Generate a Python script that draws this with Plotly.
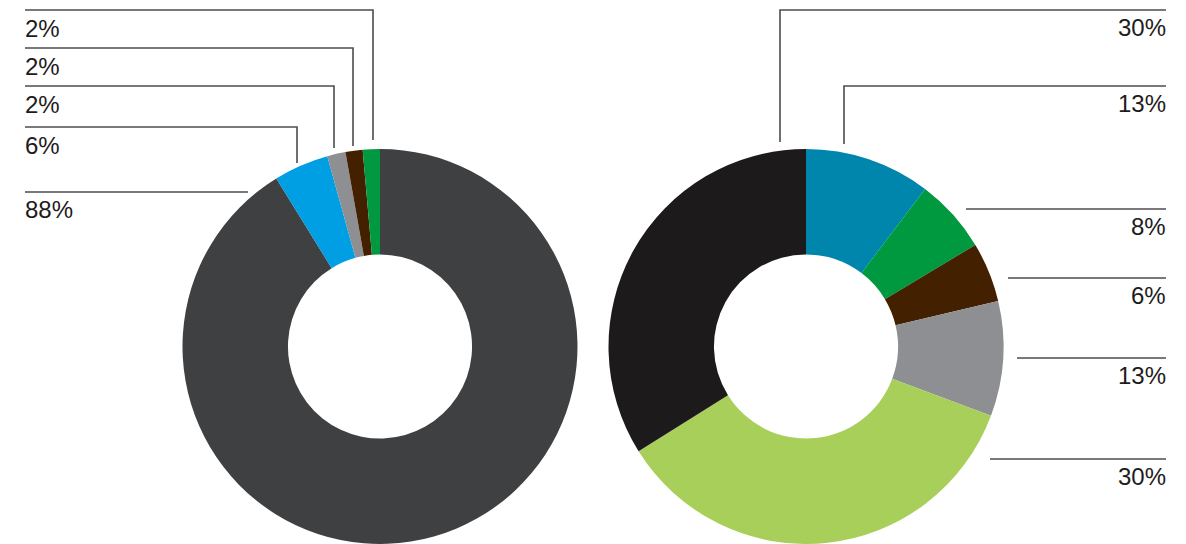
import plotly.graph_objects as go

W, H = 1186, 544

# Left donut (drawn slice shares, clockwise from 12 o'clock)
left_names = ["A", "B", "C", "D", "E"]
left_values = [91.2, 4.5, 1.5, 1.4, 1.4]
left_colors = ["#3f4042", "#009fe3", "#8e8f92", "#432000", "#00993f"]
left_labels = ["88%", "6%", "2%", "2%", "2%"]

# Right donut
right_names = ["A", "B", "C", "D", "E", "F"]
right_values = [10.3, 6.1, 4.9, 9.4, 35.4, 33.9]
right_colors = ["#0086ad", "#00993f", "#432000", "#8e8f92", "#a8cf5a", "#1c1a1b"]
right_labels = ["13%", "8%", "6%", "13%", "30%", "30%"]


def px(x):
    return x / W


def py(y):
    return 1 - y / H


fig = go.Figure()
fig.add_trace(go.Pie(
    labels=left_names, values=left_values, sort=False, direction="clockwise",
    rotation=0, hole=0.466, marker=dict(colors=left_colors, line=dict(width=0)),
    textinfo="none", hoverinfo="skip", showlegend=False,
    domain=dict(x=[px(182), px(578)], y=[0, py(149)]),
))
fig.add_trace(go.Pie(
    labels=right_names, values=right_values, sort=False, direction="clockwise",
    rotation=0, hole=0.466, marker=dict(colors=right_colors, line=dict(width=0)),
    textinfo="none", hoverinfo="skip", showlegend=False,
    domain=dict(x=[px(608), px(1004)], y=[0, py(149)]),
))

line_style = dict(color="#4d4d4f", width=1.6)
font = dict(family="Liberation Sans, Arial, sans-serif", size=24, color="#1e1b1c")

# Left leader lines: (label index, horizontal y, elbow x, vertical end y)
left_leaders = [
    (4, 10, 373, 140),
    (3, 48, 353, 146),
    (2, 86, 334, 148),
    (1, 127, 297, 163),
    (0, 192, 248, None),
]
shapes = []
annotations = []
for idx, yh, xe, yv in left_leaders:
    path = f"M {px(25)} {py(yh)} L {px(xe)} {py(yh)}"
    if yv is not None:
        path += f" L {px(xe)} {py(yv)}"
    shapes.append(dict(type="path", xref="paper", yref="paper", path=path, line=line_style))
    annotations.append(dict(x=px(23), y=py(yh + 18), xref="paper", yref="paper",
                            text=left_labels[idx], showarrow=False, xanchor="left",
                            yanchor="middle", font=font))

right_leaders = [
    (5, 10, 780, 142),
    (0, 86, 844, 144),
    (1, 209, 966, None),
    (2, 278, 1008, None),
    (3, 358, 1017, None),
    (4, 459, 990, None),
]
for idx, yh, xs, yv in right_leaders:
    if yv is not None:
        path = f"M {px(xs)} {py(yv)} L {px(xs)} {py(yh)} L {px(1166)} {py(yh)}"
    else:
        path = f"M {px(xs)} {py(yh)} L {px(1166)} {py(yh)}"
    shapes.append(dict(type="path", xref="paper", yref="paper", path=path, line=line_style))
    annotations.append(dict(x=px(1168), y=py(yh + 17), xref="paper", yref="paper",
                            text=right_labels[idx], showarrow=False, xanchor="right",
                            yanchor="middle", font=font))

fig.update_layout(
    width=W, height=H, margin=dict(l=0, r=0, t=0, b=0),
    paper_bgcolor="white", plot_bgcolor="white",
    shapes=shapes, annotations=annotations,
)
fig.write_html("out.html")
